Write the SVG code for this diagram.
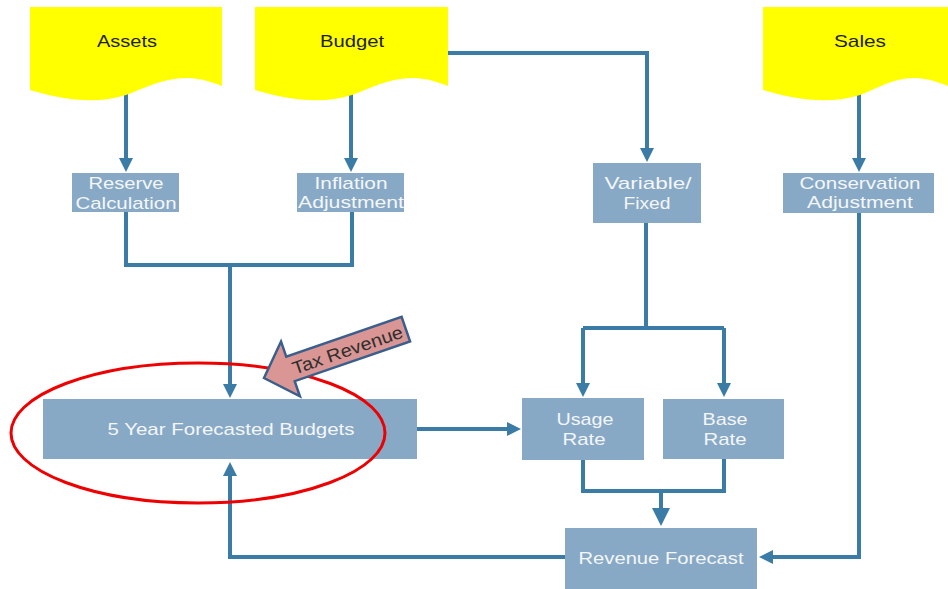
<svg xmlns="http://www.w3.org/2000/svg" width="948" height="589" viewBox="0 0 948 589">
<style>
.doc{fill:#ffff00;}
.doclbl{font-family:"Liberation Sans",Arial,sans-serif;font-size:17px;fill:#1e1e1e;text-anchor:middle;}
.box{fill:#87a9c6;}
.lbl{font-family:"Liberation Sans",Arial,sans-serif;font-size:17px;fill:#f4f6f9;text-anchor:middle;}
.conn{fill:none;stroke:#3b7ca7;stroke-width:4;stroke-linejoin:miter;}
</style>
<defs>
<marker id="ah" markerUnits="userSpaceOnUse" markerWidth="14" markerHeight="14" viewBox="0 0 14 14" refX="5" refY="7" orient="auto">
<path d="M0,0 L14,7 L0,14 z" fill="#3b7ca7"/>
</marker>
<marker id="ahL" markerUnits="userSpaceOnUse" markerWidth="18" markerHeight="18" viewBox="0 0 18 18" refX="6" refY="9" orient="auto">
<path d="M0,0 L18,9 L0,18 z" fill="#3b7ca7"/>
</marker>
</defs>
<rect width="948" height="589" fill="#ffffff"/>

<g id="connectors">
<path class="conn" d="M126,90 V163" marker-end="url(#ah)"/>
<path class="conn" d="M351,88 V163" marker-end="url(#ah)"/>
<path class="conn" d="M448,53 H647 V153" marker-end="url(#ah)"/>
<path class="conn" d="M859,90 V163" marker-end="url(#ah)"/>
<path class="conn" d="M126,212 V265 H352 V212"/>
<path class="conn" d="M230,265 V389" marker-end="url(#ah)"/>
<path class="conn" d="M646,223 V328"/>
<path class="conn" d="M583,328 H724"/>
<path class="conn" d="M583,328 V388" marker-end="url(#ah)"/>
<path class="conn" d="M724,328 V388" marker-end="url(#ah)"/>
<path class="conn" d="M417,429 H512" marker-end="url(#ah)"/>
<path class="conn" d="M583,460 V491 H724 V459"/>
<path class="conn" d="M661,491 V514" marker-end="url(#ahL)"/>
<path class="conn" d="M859,213 V557 H768" marker-end="url(#ah)"/>
<path class="conn" d="M565,557 H230 V471" marker-end="url(#ah)"/>
</g>

<g id="assets">
<path class="doc" d="M30,7 H222 V86 C180,68 155,84 126,95 C95,105 60,99 30,90 Z"/>
<text class="doclbl" x="127" y="47" textLength="60" lengthAdjust="spacingAndGlyphs">Assets</text>
</g>
<g id="budget">
<path class="doc" d="M255,7 H448 V86 C406,68 381,84 352,95 C321,105 285,99 255,90 Z"/>
<text class="doclbl" x="352" y="47" textLength="64" lengthAdjust="spacingAndGlyphs">Budget</text>
</g>
<g id="sales">
<path class="doc" d="M763,7 H948 V86 C906,68 888,84 860,95 C829,105 793,99 763,90 Z"/>
<text class="doclbl" x="860" y="47" textLength="52" lengthAdjust="spacingAndGlyphs">Sales</text>
</g>

<g id="reserve">
<rect class="box" x="72" y="173" width="107" height="39"/>
<text class="lbl" x="126" y="189" textLength="75" lengthAdjust="spacingAndGlyphs">Reserve</text>
<text class="lbl" x="126" y="209" textLength="101" lengthAdjust="spacingAndGlyphs">Calculation</text>
</g>
<g id="inflation">
<rect class="box" x="297" y="173" width="107" height="39"/>
<text class="lbl" x="351" y="189" textLength="73" lengthAdjust="spacingAndGlyphs">Inflation</text>
<text class="lbl" x="351" y="208" textLength="106" lengthAdjust="spacingAndGlyphs">Adjustment</text>
</g>
<g id="variable">
<rect class="box" x="593" y="163" width="108" height="60"/>
<text class="lbl" x="648" y="189" textLength="87" lengthAdjust="spacingAndGlyphs">Variable/</text>
<text class="lbl" x="647" y="209" textLength="47" lengthAdjust="spacingAndGlyphs">Fixed</text>
</g>
<g id="conservation">
<rect class="box" x="783" y="173" width="151" height="40"/>
<text class="lbl" x="860" y="189" textLength="121" lengthAdjust="spacingAndGlyphs">Conservation</text>
<text class="lbl" x="860" y="208" textLength="106" lengthAdjust="spacingAndGlyphs">Adjustment</text>
</g>
<g id="forecasted">
<rect class="box" x="43" y="399" width="374" height="60"/>
<text class="lbl" x="231" y="435" textLength="247" lengthAdjust="spacingAndGlyphs">5 Year Forecasted Budgets</text>
</g>
<g id="usage">
<rect class="box" x="522" y="398" width="122" height="62"/>
<text class="lbl" x="585" y="425" textLength="57" lengthAdjust="spacingAndGlyphs">Usage</text>
<text class="lbl" x="584" y="445" textLength="43" lengthAdjust="spacingAndGlyphs">Rate</text>
</g>
<g id="base">
<rect class="box" x="663" y="399" width="121" height="60"/>
<text class="lbl" x="725" y="425" textLength="45" lengthAdjust="spacingAndGlyphs">Base</text>
<text class="lbl" x="725" y="445" textLength="43" lengthAdjust="spacingAndGlyphs">Rate</text>
</g>
<g id="revenue">
<rect class="box" x="565" y="528" width="192" height="61"/>
<text class="lbl" x="661" y="564" textLength="165" lengthAdjust="spacingAndGlyphs">Revenue Forecast</text>
</g>

<g id="highlight">
<ellipse cx="198" cy="433" rx="187" ry="70" fill="none" stroke="#ee0000" stroke-width="3"/>
</g>
<g id="tax-revenue" transform="translate(264,378) rotate(-19)">
<polygon points="0,0 28,-29 28,-13 150,-13 150,13 28,13 28,29" fill="#d99694" stroke="#3a5f8c" stroke-width="2.5" stroke-linejoin="miter"/>
<text x="88" y="7" font-family="'Liberation Sans',Arial,sans-serif" font-size="18" fill="#2e2e2e" text-anchor="middle" textLength="116" lengthAdjust="spacingAndGlyphs">Tax Revenue</text>
</g>
</svg>
